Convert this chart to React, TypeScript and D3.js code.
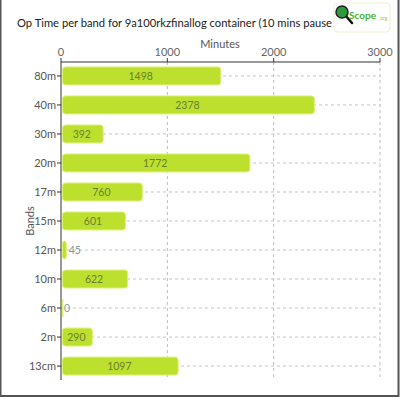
import * as d3 from "d3";

const WIDTH = 400;
const HEIGHT = 400;

const BANDS = ["80m", "40m", "30m", "20m", "17m", "15m", "12m", "10m", "6m", "2m", "13cm"];
const MINUTES = [1498, 2378, 392, 1772, 760, 601, 45, 622, 0, 290, 1097];
const X_TICKS = [0, 1000, 2000, 3000];

const FONT = "Lato, 'Open Sans', sans-serif";

export default function App() {
  const margin = { top: 62, right: 20, bottom: 20, left: 61 };

  const x = d3.scaleLinear().domain([0, 3000]).range([margin.left, 380]);
  const y = d3
    .scaleBand<string>()
    .domain(BANDS)
    .range([margin.top, 380])
    .paddingInner(0.38)
    .paddingOuter(0.17);

  const bw = y.bandwidth();

  return (
    <svg
      width={WIDTH}
      height={HEIGHT}
      style={{ position: "absolute", left: 0, top: 0, background: "#fff" }}
      fontFamily={FONT}
    >
      {/* frame */}
      <rect x={0.5} y={-2} width={WIDTH - 2} height={HEIGHT - 2} fill="none" stroke="#555" strokeWidth={2} />

      {/* title (cut off by the logo in the original) */}
      <text x={17} y={27} fontSize={11.2} fill="#222" textLength={315} lengthAdjust="spacingAndGlyphs">
        Op Time per band for 9a100rkzfinallog container (10 mins pause
      </text>

      {/* logo */}
      <g>
        <rect x={334} y={3} width={56} height={29} rx={4} fill="#fff" stroke="#eef2cc" />
        <line x1={345} y1={15} x2={352} y2={23} stroke="#111" strokeWidth={2.5} strokeLinecap="round" />
        <circle cx={342} cy={12} r={6} fill="#2f9a3c" stroke="#222" strokeWidth={1.5} />
        <text x={349} y={19} fontSize={10} fontWeight={700} fill="#45b02a">
          Scope
        </text>
        <text x={379} y={20} fontSize={5} fill="#9acd55">.org</text>
      </g>

      {/* vertical grid */}
      {X_TICKS.filter((t) => t > 0).map((t) => (
        <line
          key={"vg" + t}
          x1={x(t)}
          x2={x(t)}
          y1={margin.top}
          y2={380}
          stroke="#bbb"
          strokeDasharray="3,3"
        />
      ))}

      {/* horizontal grid */}
      {BANDS.map((b) => (
        <line
          key={"hg" + b}
          x1={x(0)}
          x2={x(3000)}
          y1={(y(b) ?? 0) + bw / 2}
          y2={(y(b) ?? 0) + bw / 2}
          stroke="#c4c4c4"
          strokeDasharray="3,3"
        />
      ))}

      {/* x axis */}
      <line x1={x(0)} x2={x(3000)} y1={margin.top} y2={margin.top} stroke="#333" />
      {X_TICKS.map((t) => (
        <g key={"xt" + t}>
          <line x1={x(t)} x2={x(t)} y1={margin.top - 4} y2={margin.top} stroke="#333" />
          <text x={x(t)} y={margin.top - 6} textAnchor="middle" fontSize={11} fill="#666">
            {t}
          </text>
        </g>
      ))}
      <text x={220} y={48} textAnchor="middle" fontSize={11} fill="#555">
        Minutes
      </text>

      {/* y axis */}
      <line x1={x(0)} x2={x(0)} y1={margin.top} y2={380} stroke="#333" />
      {BANDS.map((b) => {
        const cy = (y(b) ?? 0) + bw / 2;
        return (
          <g key={"yt" + b}>
            <line x1={x(0) - 4} x2={x(0)} y1={cy} y2={cy} stroke="#333" />
            <text x={x(0) - 5} y={cy} dy="0.35em" textAnchor="end" fontSize={11} fill="#555">
              {b}
            </text>
          </g>
        );
      })}
      <text
        transform={`translate(34,${(margin.top + 380) / 2}) rotate(-90)`}
        textAnchor="middle"
        fontSize={11}
        fill="#555"
      >
        Bands
      </text>

      {/* bars */}
      {BANDS.map((b, i) => {
        const v = MINUTES[i];
        const y0 = y(b) ?? 0;
        const w = x(v) - x(0);
        const inside = w > 25;
        return (
          <g key={"bar" + b}>
            <rect
              x={x(0) + 1.5}
              y={y0}
              width={Math.max(w - 1, 0.5)}
              height={bw}
              rx={3}
              fill="#bde02e"
              stroke="#dcf27a"
              strokeWidth={1}
            />
            <text
              x={inside ? x(0) + w / 2 : x(v) + 3}
              y={y0 + bw / 2}
              dy="0.35em"
              textAnchor={inside ? "middle" : "start"}
              fontSize={10.5}
              fill={inside ? "#6a7f30" : "#7a9e9a"}
            >
              {v}
            </text>
          </g>
        );
      })}
    </svg>
  );
}
